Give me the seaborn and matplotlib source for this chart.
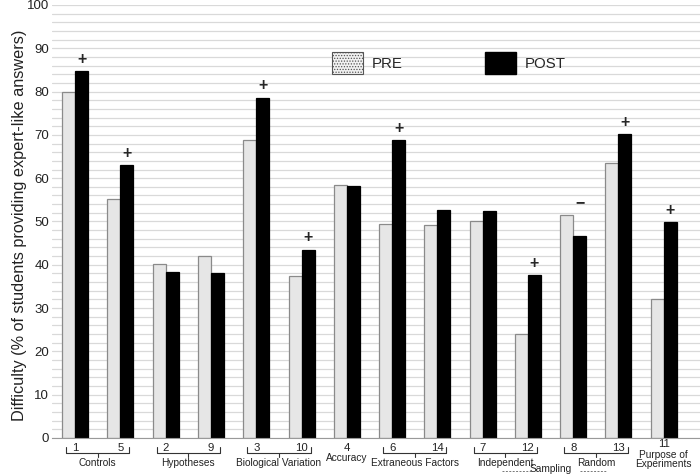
import numpy as np
import pandas as pd
import matplotlib
matplotlib.use('Agg')
import matplotlib.pyplot as plt
import matplotlib.transforms as mtransforms
from matplotlib.patches import Patch
import seaborn as sns

# question numbers in plotting order
items = ['1', '5', '2', '9', '3', '10', '4', '6', '14', '7', '12', '8', '13', '11']
pre = [80.0, 55.2, 40.1, 42.1, 68.9, 37.3, 58.5, 49.5, 49.3, 50.2, 24.0, 51.6, 63.5, 32.2]
post = [84.8, 63.0, 38.4, 38.2, 78.6, 43.5, 58.3, 68.8, 52.7, 52.4, 37.7, 46.6, 70.2, 49.9]
change = ['+', '+', '', '', '+', '+', '', '+', '', '', '+', '\u2212', '+', '+']

# (label, first item index, second item index)
pairs = [('Controls', 0, 1), ('Hypotheses', 2, 3), ('Biological Variation', 4, 5),
         ('Extraneous Factors', 7, 8), ('Independent', 9, 10), ('Random', 11, 12)]
singles = [('Accuracy', 6), ('Purpose of\nExperiments', 13)]

df = pd.DataFrame({
    'item': items * 2,
    'phase': ['PRE'] * len(items) + ['POST'] * len(items),
    'value': pre + post,
})

sns.set_style('white')
plt.rcParams['font.family'] = ['Liberation Sans', 'DejaVu Sans']
plt.rcParams['hatch.linewidth'] = 0.6

fig = plt.figure(figsize=(7, 4.74), dpi=100)
ax = fig.add_axes([0.0743, 0.076, 0.9257, 0.9135])

width = 0.574
sns.barplot(data=df, x='item', y='value', hue='phase', order=items,
            hue_order=['PRE', 'POST'], palette={'PRE': '#e6e6e6', 'POST': '#000000'},
            width=width, gap=0, saturation=1, legend=False, ax=ax)
for bar in ax.containers[0]:
    bar.set_edgecolor('#8a8a8a')
    bar.set_linewidth(0.9)
for bar in ax.containers[1]:
    bar.set_edgecolor('#000000')
    bar.set_linewidth(0.9)

ax.set_xlim(-0.51, 13.8)
ax.set_ylim(0, 100)
ax.set_yticks(np.arange(0, 101, 10))
ax.set_yticks(np.arange(0, 101, 2), minor=True)
ax.grid(axis='y', which='both', color='#d9d9d9', lw=0.9)
ax.set_axisbelow(True)
ax.tick_params(which='both', length=0)
ax.tick_params(axis='y', labelsize=9.5, pad=2, colors='#222222')
ax.tick_params(axis='x', labelsize=8.2, pad=3.5, colors='#222222')
for s in ['top', 'right', 'left']:
    ax.spines[s].set_visible(False)
ax.spines['bottom'].set_color('#999999')
ax.set_xlabel('')
ax.set_ylabel('Difficulty (% of students providing expert-like answers)', fontsize=11.7,
              color='#222222')
ax.yaxis.set_label_coords(-0.0386, 0.4916)

# the last question number sits a little higher, above its two-line label
lbl = ax.get_xticklabels()[-1]
lbl.set_transform(lbl.get_transform() + mtransforms.ScaledTranslation(0, 3 / 72, fig.dpi_scale_trans))

# significance marks above the POST bars
for i, m in enumerate(change):
    if m:
        ax.text(i + width / 4, max(pre[i], post[i]) + 2.7, m, ha='center', va='center',
                fontsize=11.5, fontweight='bold')

# brackets and group names under the axis
trans = mtransforms.blended_transform_factory(ax.transData, ax.transAxes)
y_top, y_br, y_mid = -0.021, -0.035, -0.044
for name, a, b in pairs:
    x0, x1, xm = a - 0.2, b + 0.2, (a + b) / 2
    ax.plot([x0, x0, x1, x1], [y_top, y_br, y_br, y_top], transform=trans,
            color='#333333', lw=0.8, clip_on=False)
    ax.plot([xm, xm], [y_br, y_mid], transform=trans, color='#333333', lw=0.8, clip_on=False)
    ax.text(xm, -0.0577, name, transform=trans, ha='center', va='center', fontsize=7.3,
            color='#222222')
ax.text(singles[0][1], -0.046, singles[0][0], transform=trans, ha='center', va='center',
        fontsize=7.3, color='#222222')
ax.text(singles[1][1], -0.049, singles[1][0], transform=trans, ha='center', va='center',
        fontsize=7.3, linespacing=0.92, color='#222222')

xs = (pairs[4][2] + pairs[5][1]) / 2
ax.text(xs, -0.0727, 'Sampling', transform=trans, ha='center', va='center', fontsize=7.3,
        color='#222222')
for xa, xb in [(xs - 1.08, xs - 0.42), (xs + 0.65, xs + 1.24)]:
    ax.plot([xa, xb], [-0.077, -0.077], transform=trans, color='#777777', lw=0.7,
            ls=(0, (2, 1.5)), clip_on=False)

handles = [Patch(facecolor='#f2f2f2', edgecolor='#555555', hatch='......', lw=0.8),
           Patch(facecolor='#000000', edgecolor='#000000')]
fig.legend(handles, ['PRE', 'POST'], loc='center left', bbox_to_anchor=(0.474, 0.867),
           ncol=2, frameon=False, fontsize=10.8, handlelength=2.1, handleheight=1.85,
           handletextpad=0.55, columnspacing=5.5, borderpad=0, borderaxespad=0)

fig.savefig('out.png', dpi=100)
